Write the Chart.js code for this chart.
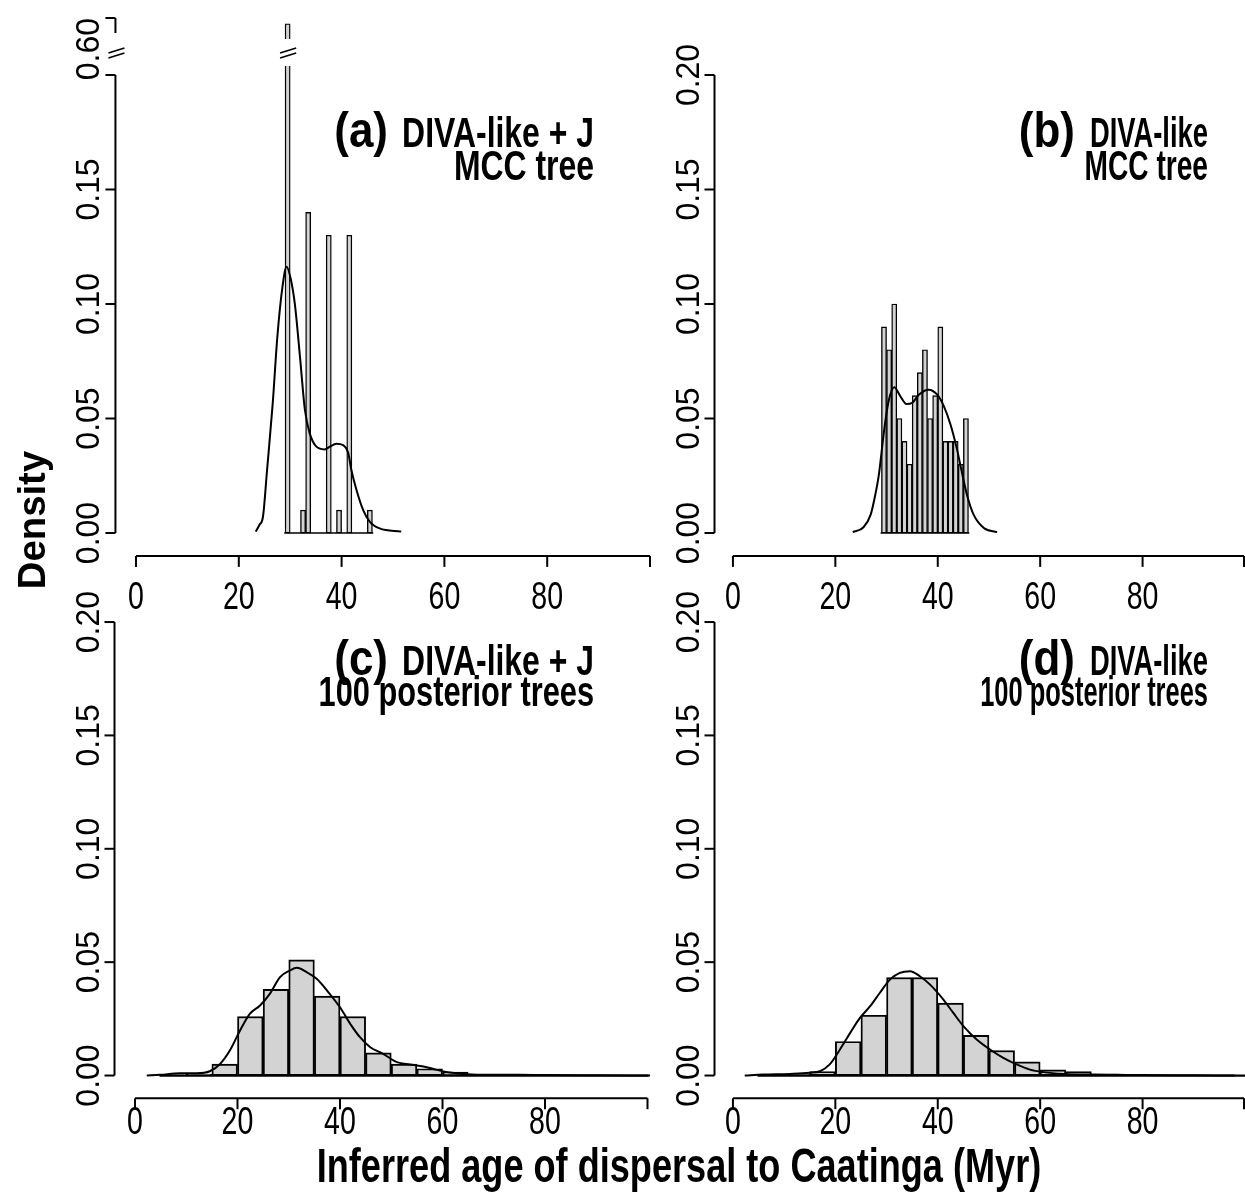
<!DOCTYPE html>
<html>
<head>
<meta charset="utf-8">
<script src="https://cdn.jsdelivr.net/npm/chart.js@4.4.1/dist/chart.umd.min.js"></script>
<style>
html, body { margin: 0; padding: 0; background: #fff; }
#wrap { position: relative; width: 1245px; height: 1193px; overflow: hidden; }
#wrap canvas { position: absolute; left: 0; top: 0; }
</style>
</head>
<body>
<div id="wrap">
  <canvas id="cA" width="1245" height="1193"></canvas>
  <canvas id="cB" width="1245" height="1193"></canvas>
  <canvas id="cC" width="1245" height="1193"></canvas>
  <canvas id="cD" width="1245" height="1193"></canvas>
</div>
<script>
"use strict";

// (a) DIVA-like + J, MCC tree (1 Myr bins, left edges)
const binsA = [29, 30, 31, 32, 33, 34, 35, 36, 37, 38, 39, 40, 41, 42, 43, 44, 45];
const densA = [0.56, 0, 0, 0.01, 0.14, 0, 0, 0, 0.13, 0, 0.01, 0, 0.13, 0, 0, 0, 0.01];
const kdeAx = [23.3, 24.0, 24.7, 25.5, 26.6, 27.5, 28.5, 29.3, 30.1, 30.9, 31.9, 32.85, 33.8, 35.1, 36.7, 37.7, 39.0, 40.3, 41.3, 41.9, 42.9, 44.2, 45.5, 47.4, 51.6];
const kdeAy = [0.0006, 0.0035, 0.0071, 0.0275, 0.0566, 0.0857, 0.1076, 0.1163, 0.111, 0.100, 0.077, 0.054, 0.0435, 0.0377, 0.0365, 0.0377, 0.039, 0.0384, 0.0348, 0.0275, 0.0188, 0.010, 0.0049, 0.002, 0.0006];

// (b) DIVA-like, MCC tree
const binsB = [29, 30, 31, 32, 33, 34, 35, 36, 37, 38, 39, 40, 41, 42, 43, 44, 45];
const densB = [0.09, 0.08, 0.10, 0.05, 0.04, 0.03, 0.06, 0.07, 0.08, 0.05, 0.06, 0.09, 0.04, 0.04, 0.04, 0.03, 0.05];
const kdeBx = [23.4, 25.5, 26.9, 27.8, 28.5, 29.5, 30.4, 31.5, 32.7, 33.9, 35.0, 36.3, 38.2, 39.9, 41.2, 42.5, 43.7, 44.4, 45.7, 47.0, 49.0, 51.6];
const kdeBy = [0.0004, 0.0025, 0.008, 0.0167, 0.0255, 0.0444, 0.0575, 0.0636, 0.0597, 0.0563, 0.0568, 0.0604, 0.0626, 0.0604, 0.0553, 0.0473, 0.0371, 0.0298, 0.0167, 0.008, 0.0022, 0.0004];

// (c) DIVA-like + J, 100 posterior trees (5 Myr bins)
const binsC = [5, 10, 15, 20, 25, 30, 35, 40, 45, 50, 55, 60, 65, 70, 75, 80, 85, 90, 95];
const densC = [0.0002, 0.0006, 0.005, 0.026, 0.038, 0.051, 0.035, 0.026, 0.010, 0.005, 0.003, 0.0015, 0.0004, 0.0003, 0.0002, 0.0002, 0.0001, 0, 0];
const kdeCx = [2.3, 4.9, 8.8, 12.0, 14.6, 16.6, 18.5, 20.5, 22.4, 24.4, 26.3, 28.3, 30.2, 31.6, 33.5, 35.5, 38.0, 40.0, 42.0, 43.9, 45.9, 48.4, 51.1, 53.7, 56.3, 58.9, 61.5, 64.1, 69.3, 75, 80, 90, 100.5];
const kdeCy = [0, 0.0003, 0.001, 0.001, 0.0019, 0.0051, 0.011, 0.0199, 0.0272, 0.0309, 0.036, 0.0434, 0.0463, 0.0475, 0.0456, 0.0426, 0.036, 0.0301, 0.0228, 0.0169, 0.0125, 0.0096, 0.0059, 0.0049, 0.004, 0.0025, 0.0013, 0.0007, 0.0003, 0.0003, 0.0002, 0.0001, 0];

// (d) DIVA-like, 100 posterior trees
const binsD = [5, 10, 15, 20, 25, 30, 35, 40, 45, 50, 55, 60, 65, 70, 75, 80, 85, 90, 95];
const densD = [0.0002, 0.0004, 0.0017, 0.015, 0.0266, 0.0432, 0.0432, 0.0319, 0.0177, 0.011, 0.006, 0.0025, 0.0017, 0.0006, 0.0004, 0.0002, 0.0001, 0, 0];
const kdeDx = [2.3, 5.9, 11.1, 15.0, 17.0, 18.9, 20.9, 22.9, 24.8, 26.8, 28.7, 30.7, 32.6, 34.6, 36.5, 38.5, 41.1, 43.0, 45.0, 47.6, 50.2, 52.8, 55.4, 58.0, 60.6, 64.5, 69.7, 75, 80, 90, 98];
const kdeDy = [0, 0.0004, 0.0007, 0.0012, 0.0019, 0.0049, 0.0115, 0.0188, 0.0254, 0.0306, 0.0365, 0.0424, 0.0453, 0.046, 0.0438, 0.0401, 0.0335, 0.0277, 0.0218, 0.0159, 0.0115, 0.0078, 0.0049, 0.0026, 0.0015, 0.0007, 0.0004, 0.0003, 0.0002, 0.0001, 0];

// axis ticks
const xTicks = [0, 20, 40, 60, 80, 100];
const xLabels = ["0", "20", "40", "60", "80", ""];
const yTicks = [0, 0.05, 0.10, 0.15, 0.20];
const yLabels = ["0.00", "0.05", "0.10", "0.15", "0.20"];
const yTicksA = [0, 0.05, 0.10, 0.15, 0.20, 0.60];
const yLabelsA = ["0.00", "0.05", "0.10", "0.15", "", "0.60"];

// broken y axis of panel (a): 0.2 .. 0.6 squeezed into a short stretch
const BRK_LO = 0.2, BRK_SQ = 0.0622;
function squeeze(v) { return (v !== null && v > BRK_LO) ? BRK_LO + (v - BRK_LO) * BRK_SQ : v; }
function unsqueeze(v) { return (v !== null && v > BRK_LO) ? BRK_LO + (v - BRK_LO) / BRK_SQ : v; }

class BrokenScale extends Chart.LinearScale {
    getPixelForValue(value) { return super.getPixelForValue(squeeze(value)); }
    getValueForPixel(pixel) { return unsqueeze(super.getValueForPixel(pixel)); }
}
BrokenScale.id = "broken";
BrokenScale.defaults = Chart.LinearScale.defaults;
Chart.register(BrokenScale);

const FONT = '"Liberation Sans", Arial, Helvetica, sans-serif';
const TALL = 1.12;

function txt(ctx, s, x, y, size, o) {
    o = o || {};
    ctx.save();
    ctx.translate(x, y);
    ctx.scale(1, TALL);
    if (o.rot) ctx.rotate(o.rot);
    ctx.scale(o.sx || 0.84, 1);
    ctx.font = (o.bold ? "bold " : "") + size + "px " + FONT;
    ctx.textAlign = o.align || "center";
    ctx.textBaseline = "alphabetic";
    ctx.fillStyle = "#000";
    ctx.fillText(s, 0, 0);
    ctx.restore();
}

function seg(ctx, x1, y1, x2, y2) {
    ctx.beginPath();
    ctx.moveTo(x1, y1);
    ctx.lineTo(x2, y2);
    ctx.stroke();
}

const panels = [
    { id: "cA", bins: binsA, dens: densA, kx: kdeAx, ky: kdeAy, bw: 1, broken: true,
      yt: yTicksA, yl: yLabelsA, area: [115.44, 10, 670.56, 555.9], xr: [-4, 104], yr: [-0.01, 0.22838],
      tag: "(a)", t1: "DIVA-like + J", t2: "MCC tree", tagR: 388, txtR: 594, b1: 147, b2: 180, s1: 0.84, s2: 0.84,
      xlab: 609, border: 1.4 },
    { id: "cB", bins: binsB, dens: densB, kx: kdeBx, ky: kdeBy, bw: 1, broken: false,
      yt: yTicks, yl: yLabels, area: [714.5, 10, 1245, 555.9], xr: [-3.6, 100], yr: [-0.01, 0.22838],
      tag: "(b)", t1: "DIVA-like", t2: "MCC tree", tagR: 1075, txtR: 1208, b1: 147, b2: 180, s1: 0.72, s2: 0.74,
      xlab: 609, border: 1.4 },
    { id: "cC", bins: binsC, dens: densC, kx: kdeCx, ky: kdeCy, bw: 5, broken: false,
      yt: yTicks, yl: yLabels, area: [114.5, 603.9, 668, 1098.2], xr: [-4, 104], yr: [-0.01, 0.208],
      tag: "(c)", t1: "DIVA-like + J", t2: "100 posterior trees", tagR: 388, txtR: 594, b1: 675, b2: 706, s1: 0.84, s2: 0.81,
      xlab: 1134, border: 1.9 },
    { id: "cD", bins: binsD, dens: densD, kx: kdeDx, ky: kdeDy, bw: 5, broken: false,
      yt: yTicks, yl: yLabels, area: [714.5, 603.9, 1245, 1098.2], xr: [-3.6, 100], yr: [-0.01, 0.208],
      tag: "(d)", t1: "DIVA-like", t2: "100 posterior trees", tagR: 1075, txtR: 1208, b1: 675, b2: 706, s1: 0.72, s2: 0.67,
      xlab: 1134, border: 1.9 }
];

function rAxes(p) {
    return {
        id: "rAxes",
        afterDatasetsDraw(chart) {
            const ctx = chart.ctx, xs = chart.scales.x, ys = chart.scales.y, a = chart.chartArea;
            const ax = a.left, ay = a.bottom;
            ctx.save();
            ctx.strokeStyle = "#000";
            ctx.lineCap = "square";

            // empty bins show as a line on zero
            const y0 = ys.getPixelForValue(0);
            ctx.lineWidth = p.border + 0.3;
            seg(ctx, xs.getPixelForValue(p.bins[0]), y0,
                xs.getPixelForValue(p.bins[p.bins.length - 1] + p.bw), y0);

            ctx.lineWidth = 2;
            ctx.lineCap = "butt";
            const yTop = ys.getPixelForValue(0.2);

            if (p.broken) {
                const hi = ys.getPixelForValue(0.6);
                const mid = hi + 34;
                // gap through the tall bar
                let k = 0;
                p.dens.forEach(function (d, i) { if (d > p.dens[k]) k = i; });
                const bl = xs.getPixelForValue(p.bins[k]), br = xs.getPixelForValue(p.bins[k] + p.bw);
                ctx.fillStyle = "#fff";
                ctx.fillRect(bl - 2, mid - 13, br - bl + 4, 27);
                ctx.lineWidth = 1.6;
                seg(ctx, bl - 5, mid + 1, br + 6, mid - 4);
                seg(ctx, bl - 5, mid + 6, br + 6, mid + 1);
                // axis stub above the break
                ctx.lineWidth = 2;
                seg(ctx, ax, hi, ax, hi + 15);
                ctx.lineWidth = 1.6;
                seg(ctx, ax - 7, mid + 1, ax + 9, mid - 4);
                seg(ctx, ax - 7, mid + 6, ax + 9, mid + 1);
                ctx.lineWidth = 2;
            }

            // y axis
            seg(ctx, ax, y0, ax, yTop);
            p.yt.forEach(function (v, i) {
                const py = ys.getPixelForValue(v);
                seg(ctx, ax - 10, py, ax, py);
                if (p.yl[i]) {
                    if (v > BRK_LO) {
                        txt(ctx, p.yl[i], ax - 16, Math.max(py, 12), 34, { rot: -Math.PI / 2, align: "right" });
                    } else {
                        txt(ctx, p.yl[i], ax - 16, py, 34, { rot: -Math.PI / 2 });
                    }
                }
            });

            // x axis
            const xl = xs.getPixelForValue(xTicks[0]);
            const xr = Math.min(xs.getPixelForValue(xTicks[xTicks.length - 1]), chart.width - 1);
            seg(ctx, xl, ay, xr, ay);
            xTicks.forEach(function (v, i) {
                const px = Math.min(xs.getPixelForValue(v), chart.width - 1);
                seg(ctx, px, ay, px, ay + 11);
                if (xLabels[i]) txt(ctx, xLabels[i], px, p.xlab, 34);
            });

            // panel heading
            txt(ctx, p.tag, p.tagR, p.b1, 44, { bold: true, align: "right", sx: 1 });
            txt(ctx, p.t1, p.txtR, p.b1, 38, { bold: true, align: "right", sx: p.s1 });
            txt(ctx, p.t2, p.txtR, p.b2, 38, { bold: true, align: "right", sx: p.s2 });

            if (p.id === "cA") {
                txt(ctx, "Density", 45, 520, 38, { bold: true, rot: -Math.PI / 2, sx: 0.9 });
                txt(ctx, "Inferred age of dispersal to Caatinga (Myr)", 679, 1182, 43, { bold: true });
            }
            ctx.restore();
        }
    };
}

panels.forEach(function (p) {
    const bars = p.bins.map(function (b, i) { return { x: b + p.bw / 2, y: p.dens[i] }; });
    const curve = p.kx.map(function (x, i) { return { x: x, y: p.ky[i] }; });

    new Chart(document.getElementById(p.id), {
        type: "bar",
        data: {
            datasets: [
                {
                    type: "line",
                    data: curve,
                    borderColor: "#000",
                    borderWidth: 2,
                    pointRadius: 0,
                    fill: false,
                    tension: 0.4,
                    cubicInterpolationMode: "monotone",
                    clip: false,
                    order: 0
                },
                {
                    type: "bar",
                    data: bars,
                    backgroundColor: "#d3d3d3",
                    borderColor: "#000",
                    borderWidth: p.border,
                    borderSkipped: false,
                    categoryPercentage: 1,
                    barPercentage: 1,
                    grouped: false,
                    clip: false,
                    order: 1
                }
            ]
        },
        options: {
            responsive: false,
            animation: false,
            devicePixelRatio: 1,
            layout: {
                padding: { left: p.area[0], top: p.area[1], right: 1245 - p.area[2], bottom: 1193 - p.area[3] }
            },
            plugins: { legend: { display: false }, tooltip: { enabled: false }, title: { display: false } },
            scales: {
                x: {
                    type: "linear", display: false, offset: false, bounds: "data",
                    min: p.xr[0], max: p.xr[1],
                    afterBuildTicks: function (s) { s.ticks = xTicks.map(function (v) { return { value: v }; }); }
                },
                y: {
                    type: p.broken ? "broken" : "linear", display: false, bounds: "data",
                    min: p.yr[0], max: p.yr[1]
                }
            }
        },
        plugins: [rAxes(p)]
    });
});
</script>
</body>
</html>
